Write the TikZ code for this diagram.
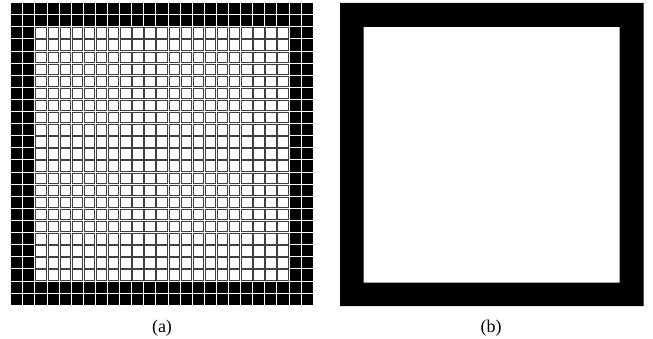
\documentclass[tikz,border=0pt]{standalone}
\usepackage{fontspec}
\setmainfont{Liberation Serif}
\tikzset{
    cell/.style={draw=black!75, line width=0.8pt, fill=white},
    darkcell/.style={fill=black},
    frame/.style={fill=black, even odd rule},
    caption/.style={font=\fontsize{18}{20}\selectfont, inner sep=0pt},
}

\begin{document}
\begin{tikzpicture}[x=1pt, y=-1pt]

    \useasboundingbox (0,0) rectangle (653,339);

    % Grid (a): 25x25 cells, two outer rings black
    \foreach \i in {0,...,24} {
        \foreach \j in {0,...,24} {
            \pgfmathtruncatemacro{\inside}{and(and(\i>1,\i<23),and(\j>1,\j<23))}
            \ifnum\inside=1
                \draw[cell] ({11.6+12.1*\i},{3.6+12.1*\j}) rectangle +(10.4,10.4);
            \else
                \fill[darkcell] ({11.2+12.1*\i},{3.2+12.1*\j}) rectangle +(11.1,11.1);
            \fi
        }
    }

    % Frame (b)
    \fill[frame] (340,3) rectangle (643.5,306) (363.5,27) rectangle (619.5,282.5);

    % Captions
    \node[caption] (capa) at (162,328) {(a)};
    \node[caption] (capb) at (491,328) {(b)};

\end{tikzpicture}
\end{document}
